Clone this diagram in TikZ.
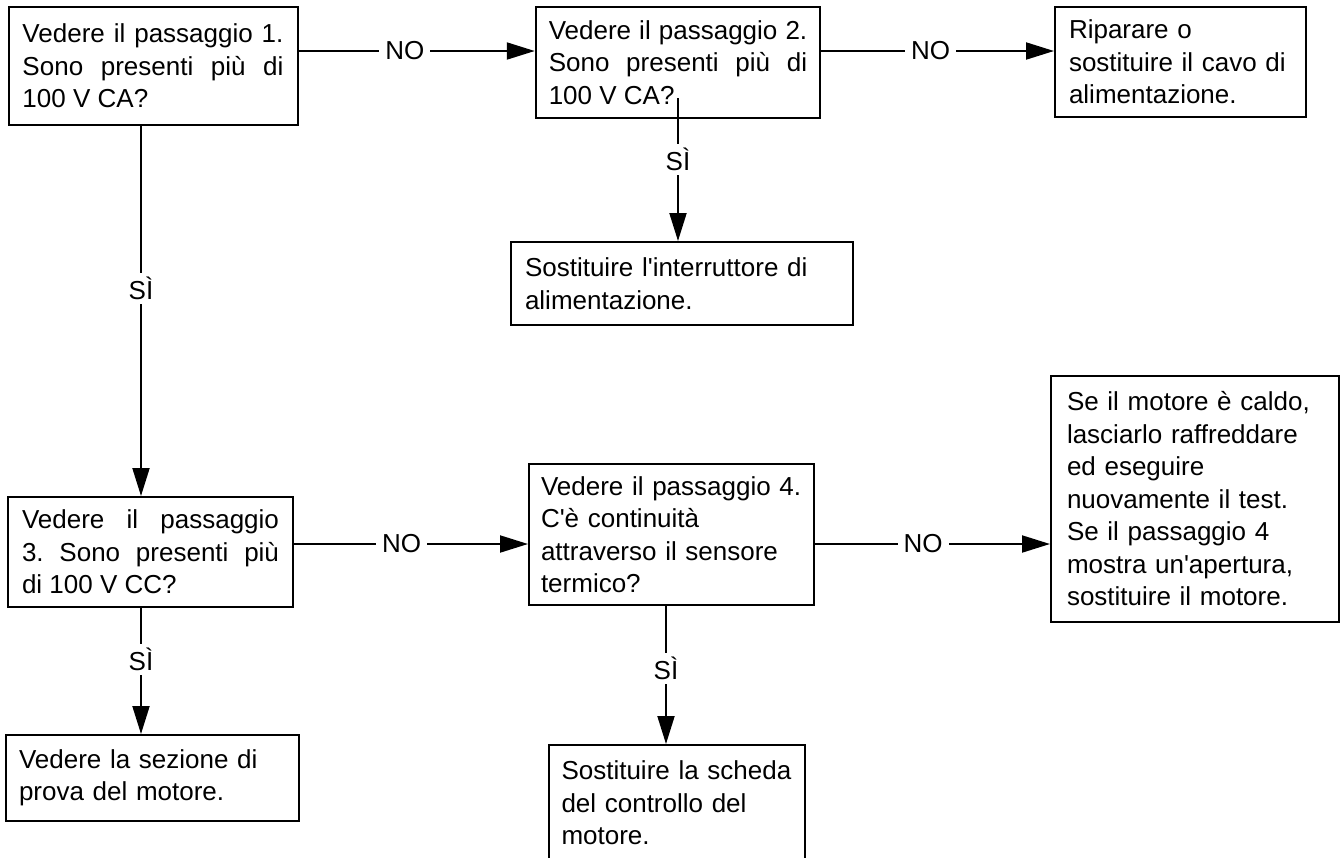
\documentclass[tikz,border=0pt]{standalone}
\usepackage{fontspec}
\newfontfamily\flowfont{Liberation Sans}[Ligatures=TeXOff]
\usepackage{tikz}
\usetikzlibrary{arrows.meta, positioning, calc}
\frenchspacing

\begin{document}
\begin{tikzpicture}[
    x=0.5pt, y=-0.5pt,
    font=\flowfont\fontsize{13}{16.25}\selectfont,
    >={Triangle[length=14pt, width=8.5pt]},
    box/.style={draw, line width=1pt, inner xsep=7pt, inner ysep=0pt, align=left},
    jbox/.style={box, align=justify},
    lbl/.style={fill=white, inner xsep=3pt, inner ysep=2pt},
    arrow/.style={->, line width=1pt}
]
\path[use as bounding box, clip] (0,0) rectangle (1341,858);

% Helper coordinates for connector rows and columns
\coordinate (rowA) at (0,51);
\coordinate (rowC) at (0,544);
\coordinate (colA) at (141,0);
\coordinate (colD) at (666,0);

% Nodes
\node[jbox, text width=130.5pt, minimum height=59pt, inner xsep=7pt] (stepA) at (153,66) {Vedere il passaggio 1.\linebreak Sono presenti più di\linebreak 100 V CA?};
\node[jbox, text width=129.25pt, minimum height=55.5pt, inner xsep=6.5pt] (stepB) at (678,62.5) {Vedere il passaggio 2.\linebreak Sono presenti più di\linebreak 100 V CA?};
\node[box, text width=111.5pt, minimum height=55pt] (repair) at (1180.5,62) {Riparare o\\sostituire il cavo di\\alimentazione.};
\node[box, text width=157pt, minimum height=41.5pt] (switch) at (682,283.5) {Sostituire l'interruttore di\\alimentazione.};

\node[jbox, text width=128.5pt, minimum height=55pt] (stepC) at (150.5,552) {Vedere il passaggio\linebreak 3. Sono presenti più\linebreak di 100 V CC?};
\node[box, text width=133.5pt, minimum height=43pt, inner xsep=6.5pt] (motortest) at (152.5,778) {Vedere la sezione di\\prova del motore.};
\node[box, text width=130.5pt, minimum height=70.5pt, inner xsep=6pt] (stepD) at (671.5,534.5) {Vedere il passaggio 4.\\C'è continuità\\attraverso il sensore\\termico?};
\node[box, text width=115.5pt, minimum height=58pt, inner xsep=6.25pt] (board) at (677,803) {Sostituire la scheda\\del controllo del\\motore.};
\node[box, text width=128pt, minimum height=123pt, inner xsep=8pt] (cool) at (1195,499) {Se il motore è caldo,\\lasciarlo raffreddare\\ed eseguire\\nuovamente il test.\\Se il passaggio 4\\mostra un'apertura,\\sostituire il motore.};

% Arrows
\draw[arrow] (stepA.east |- rowA) -- node[lbl, pos=0.45] {NO} (stepB.west |- rowA);
\draw[arrow] (stepB.east |- rowA) -- node[lbl, pos=0.47] {NO} (repair.west |- rowA);
\draw[arrow] (stepA.south -| colA) -- node[lbl, pos=0.44] {SÌ} (stepC.north -| colA);
\draw[arrow] ([yshift=10.5pt]stepB.south) -- node[lbl, pos=0.43] {SÌ} (switch.north -| stepB.south);

\draw[arrow] (stepC.east |- rowC) -- node[lbl, pos=0.46] {NO} (stepD.west |- rowC);
\draw[arrow] (stepD.east |- rowC) -- node[lbl, pos=0.46] {NO} (cool.west |- rowC);
\draw[arrow] (stepC.south -| colA) -- node[lbl, pos=0.41] {SÌ} (motortest.north -| colA);
\draw[arrow] (stepD.south -| colD) -- node[lbl, pos=0.45] {SÌ} (board.north -| colD);

\end{tikzpicture}
\end{document}
